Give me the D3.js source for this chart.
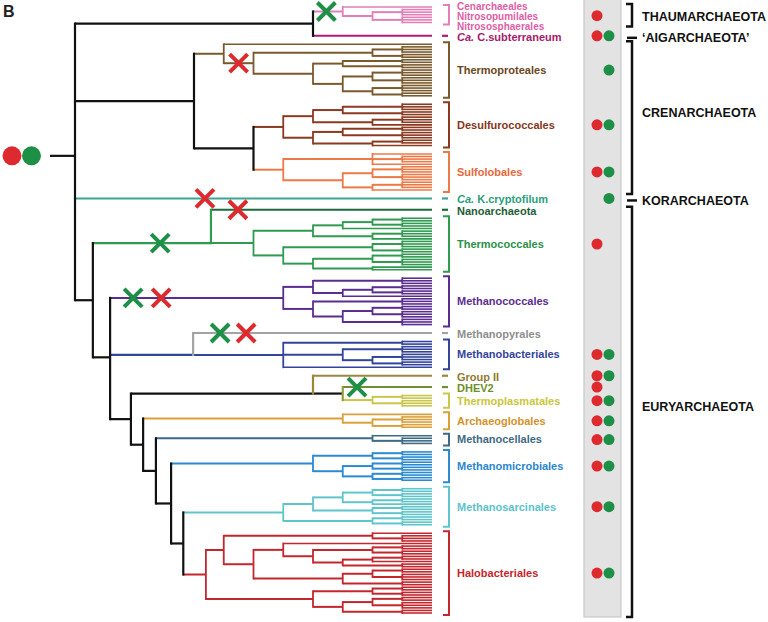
<!DOCTYPE html>
<html><head><meta charset="utf-8">
<script src="https://cdn.jsdelivr.net/npm/d3@7"></script>
<style>
body{margin:0;background:#fff}
svg{display:block}
text{font-family:"Liberation Sans",Arial,Helvetica,sans-serif}
</style>
</head><body>
<svg id="chart" width="768" height="622"></svg>
<script>
// ---------------- DATA ----------------
const cladeNames = ["Thaumarchaeota","Aigarchaeota","Thermoproteales","Desulfurococcales","Sulfolobales",
  "Korarchaeota","Nanoarchaeota","Thermococcales","Methanococcales","Methanopyrales","Methanobacteriales",
  "GroupII","DHEV2","Thermoplasmatales","Archaeoglobales","Methanocellales","Methanomicrobiales",
  "Methanosarcinales","Halobacteriales"];

const cladeLabels = [["Cenarchaeales","Nitrosopumilales","Nitrososphaerales"],["Ca. C.subterraneum"],
  ["Thermoproteales"],["Desulfurococcales"],["Sulfolobales"],["Ca. K.cryptofilum"],["Nanoarchaeota"],
  ["Thermococcales"],["Methanococcales"],["Methanopyrales"],["Methanobacteriales"],["Group II"],["DHEV2"],
  ["Thermoplasmatales"],["Archaeoglobales"],["Methanocellales"],["Methanomicrobiales"],
  ["Methanosarcinales"],["Halobacteriales"]];

const branchColors = ["#e37fb8","#b01c72","#7a5a2c","#8b3a20","#ec7946","#3ba593","#1e6a3f","#2f9a50",
  "#5b2d90","#a3a3a3","#33449b","#9b863c","#6e8f33","#c9c64a","#daa03a","#3d6a87","#2b8ad0","#5fc5cb","#c3272d"];
const labelColors = ["#de5ea6","#a8196a","#6b4720","#86361c","#e8683a","#2aa07d","#1c5e36","#2a9146",
  "#5b2d90","#8e8e8e","#33449b","#8f7a2f","#6e8f2a","#c9c63a","#d4922a","#3f6a86","#2a87cf","#5cc3cb","#c5262b"];

// clade subtrees: [depthLevel, child, child, ...]; 0 = leaf (drawn to the tip line)
const cladeTrees = [
  [9, 0, [10, [11,0,0,0], [11,0,0,0]]],
  0,
  [5, 0, [6, [10,[11,0,0,0],[11,0,0]], [8, [9,[11,0,0],[11,0,0]], [9,[10,[11,0,0,0],[11,0,0,0]],[10,[11,0,0,0],[11,0,0]]]]]],
  [7, [8, [9,[11,0,0,0],[11,0,0]], [10,[11,0,0,0],0]], [8, [9,[11,0,0],[11,0,0,0]], [10,[11,0,0],0]]],
  [7, [10, 0, [11,0,0,0], 0], [9, [10,[11,0,0,0],[11,0,0,0]], [10,[11,0,0,0],0]]],
  0,
  0,
  [6, [8, [9,[10,[11,0,0],[11,0,0]],0], [10,[11,0,0,0],0]], [7, [10,[11,0,0,0],[11,0,0]], [8,[10,[11,0,0],[11,0,0,0]],[10,0,0]]]],
  [7, [8, [11,0,0,0], [9,[10,[11,0,0],[11,0,0]],0]], [8, [11,0,0,0], [9,[10,[11,0,0],[11,0,0,0]],[11,0,0,0]]]],
  0,
  [7, [11,0,0], [9, [11,0,0,0], [10,[11,0,0,0],[11,0,0]]], 0],
  0,
  0,
  [10, [11,0,0], [11,0,0,0]],
  [9, 0, [10, [11,0,0,0], [11,0,0]]],
  [10, 0, [11,0,0,0]],
  [8, [10,[11,0,0],[11,0,0]], [9, [10,[11,0,0],[11,0,0]], [10,[11,0,0],[11,0,0]]]],
  [7, [8, [9,[10,[11,0,0],[11,0,0]],[10,[11,0,0],0]], [10,[11,0,0],[11,0,0]]], [10,[11,0,0],[11,0,0]]],
  [4.4, [5, [10,0,[11,0,0,0]], [6, [7,0,[8,[10,[11,0,0],[11,0,0]],[9,[10,[11,0,0],0],[11,0,0]]]], [9,[10,[11,0,0],[11,0,0,0]],[11,0,0]]]],
        [8, [10,[11,0,0],[11,0,0]], [9,[10,[11,0,0],[11,0,0,0]],[11,0,0]]]]
];

// backbone linking the clades: [depthLevel, child, ...]
const backbone = [0,
  [8, "Thaumarchaeota", "Aigarchaeota"],
  [4, "Thermoproteales", [6, "Desulfurococcales", "Sulfolobales"]],
  "Korarchaeota",
  [0.6,
    [4.57, "Nanoarchaeota", "Thermococcales"],
    [1.18, "Methanococcales", [3.97, "Methanopyrales", "Methanobacteriales"],
      [1.88, [8, "GroupII", [9, "DHEV2", "Thermoplasmatales"]],
        [2.29, "Archaeoglobales", [2.72, "Methanocellales", [3.23, "Methanomicrobiales",
          [3.64, "Methanosarcinales", "Halobacteriales"]]]]]]]];

// styles for backbone nodes: [clades below, vertical colour, stem colour, stem joins the last child]
const nodeStyles = [
  ["Nanoarchaeota|Thermococcales", "#2f9a50", "#2f9a50", true],
  ["Methanopyrales|Methanobacteriales", "#a3a3a3", "#33449b", true],
  ["GroupII|DHEV2|Thermoplasmatales", "#9b863c", "#111111", true],
  ["DHEV2|Thermoplasmatales", "#8fa03a", "#111111", false]
];

// loss marks: [node (clades below), path inside clade, colour, position along the branch]
const lossMarks = [
  ["Thaumarchaeota", [], "green", 0.45],
  ["Thermoproteales", [1], "red", 0.5],
  ["Korarchaeota", [], "red", 0.364],
  ["Nanoarchaeota", [], "red", 0.122],
  ["Nanoarchaeota|Thermococcales", [], "green", 0.57],
  ["Methanococcales", [], "green", 0.133],
  ["Methanococcales", [], "red", 0.295],
  ["Methanopyrales", [], "green", 0.113],
  ["Methanopyrales", [], "red", 0.222],
  ["DHEV2", [], "green", 0.16]
];

// presence of the two traits per clade
const hasRed   = [1,1,0,1,1,0,0,1,0,0,1,1,1,1,1,1,1,1,1];
const hasGreen = [0,1,1,1,1,1,0,0,0,0,1,1,0,1,1,1,1,1,1];

const phylumNames = ["THAUMARCHAEOTA","\u2018AIGARCHAEOTA\u2019","CRENARCHAEOTA","KORARCHAEOTA","EURYARCHAEOTA"];
const phylumFirst = ["Thaumarchaeota","Aigarchaeota","Thermoproteales","Korarchaeota","Nanoarchaeota"];
const phylumLast  = ["Thaumarchaeota","Aigarchaeota","Sulfolobales","Korarchaeota","Halobacteriales"];

// ---------------- DRAW ----------------
const RED = "#dd2a2e", GREEN = "#1d8f47", BLACK = "#111111";
const svg = d3.select("#chart");
const GAP = 2.3, LABEL_GAP = 1.9, SINGLE_GAP = 1.1;

function fromClade(spec, ci) {
  if (spec === 0) return {clade: ci};
  return {clade: ci, depth: spec[0], kids: spec.slice(1).map(s => fromClade(s, ci))};
}
function fromBackbone(spec) {
  if (typeof spec === "string") {
    const ci = cladeNames.indexOf(spec);
    const n = fromClade(cladeTrees[ci], ci);
    n.cladeRoot = true;
    return n;
  }
  return {clade: -1, depth: spec[0], kids: spec.slice(1).map(fromBackbone)};
}
const root = d3.hierarchy(fromBackbone(backbone), d => d.kids);

let li = 0, gaps = 0, prev = null;
const leaves = root.leaves();
leaves.forEach(l => {
  const c = l.data.clade;
  if (prev !== null && c !== prev) {
    gaps += GAP;
    if (cladeLabels[prev].length > 1) gaps += LABEL_GAP;
    if (cladeTrees[prev] === 0 && cladeTrees[c] === 0) gaps += SINGLE_GAP;
  }
  l.slot = li + gaps; li++; prev = c;
});
const maxSlot = d3.max(leaves, l => l.slot);
const X = d3.scaleLinear().domain([0, 12]).range([75, 432]);
const Y = d3.scaleLinear().domain([0, maxSlot]).range([7, 613]);

const styles = new Map(nodeStyles.map(d => [d[0], d]));
root.eachAfter(n => {
  n.key = [...new Set(n.leaves().map(l => cladeNames[l.data.clade]))].join("|");
  n.style = n.data.clade === -1 ? styles.get(n.key) : undefined;
  if (!n.children) { n.x = X(12); n.y = Y(n.slot); }
  else {
    n.x = X(n.data.depth);
    n.y = (n.style && n.style[3]) ? n.children[n.children.length - 1].y : d3.mean(n.children, c => c.y);
  }
});
function vertColor(n) {
  if (n.style) return n.style[1];
  return n.data.clade >= 0 ? branchColors[n.data.clade] : BLACK;
}
function stemColor(n) {
  if (n.style) return n.style[2];
  return n.data.clade >= 0 ? branchColors[n.data.clade] : BLACK;
}

// gray trait panel
svg.append("rect").attr("x", 584).attr("y", -3).attr("width", 37).attr("height", 620)
  .attr("fill", "#e3e3e3").attr("stroke", "#c8c8c8").attr("stroke-width", 1.2);

const gTree = svg.append("g");
// stems
gTree.selectAll("line.stem").data(root.descendants().filter(n => n.parent)).join("line")
  .attr("class", "stem")
  .attr("x1", n => n.parent.x).attr("x2", n => n.x)
  .attr("y1", n => n.y).attr("y2", n => n.y)
  .attr("stroke", stemColor)
  .attr("stroke-width", n => (!n.children && n.data.clade >= 0 && !n.data.cladeRoot) ? 1.6 : (n.data.clade === -1 ? 2.2 : 2));
// verticals
gTree.selectAll("line.vert").data(root.descendants().filter(n => n.children)).join("line")
  .attr("class", "vert")
  .attr("x1", n => n.x).attr("x2", n => n.x)
  .attr("y1", n => d3.min(n.children, c => c.y)).attr("y2", n => d3.max(n.children, c => c.y))
  .attr("stroke", vertColor)
  .attr("stroke-linecap", "square")
  .attr("stroke-width", n => n.data.clade === -1 ? 2.2 : 1.8);

// root stub and ancestral state dots
svg.append("line").attr("x1", 50).attr("x2", root.x).attr("y1", root.y).attr("y2", root.y)
  .attr("stroke", BLACK).attr("stroke-width", 2.2);
svg.append("circle").attr("cx", 12).attr("cy", root.y).attr("r", 9.5).attr("fill", RED);
svg.append("circle").attr("cx", 31.5).attr("cy", root.y).attr("r", 9.5).attr("fill", GREEN);

// loss marks
const all = root.descendants();
lossMarks.forEach(([key, path, col, f]) => {
  let n = all.find(d => d.key === key && (d.data.cladeRoot || d.data.clade === -1));
  path.forEach(p => { n = n.children[p]; });
  const cx = n.parent.x + f * (n.x - n.parent.x), cy = n.y, h = 9;
  const c = col === "red" ? RED : GREEN;
  svg.append("path").attr("d", `M${cx-h},${cy-h}L${cx+h},${cy+h}M${cx-h},${cy+h}L${cx+h},${cy-h}`)
    .attr("stroke", c).attr("stroke-width", 4).attr("fill", "none");
});

// clade extents
const cladeExt = cladeNames.map((nm, ci) => {
  const ls = leaves.filter(l => l.data.clade === ci);
  return {ci, top: d3.min(ls, l => l.y), bot: d3.max(ls, l => l.y), n: ls.length};
});

// clade brackets and labels
cladeExt.forEach(e => {
  const col = labelColors[e.ci];
  if (e.n > 1) {
    svg.append("path").attr("d", `M443,${e.top-2}H449V${e.bot+2}H443`)
      .attr("fill", "none").attr("stroke", branchColors[e.ci]).attr("stroke-width", 2);
  } else {
    svg.append("line").attr("x1", 442).attr("x2", 448).attr("y1", e.top).attr("y2", e.top)
      .attr("stroke", branchColors[e.ci]).attr("stroke-width", 2.2);
  }
  const mid = (e.top + e.bot) / 2;
  const lines = cladeLabels[e.ci];
  lines.forEach((t, i) => {
    const ty = lines.length > 1 ? mid + 2 + (i - 1) * 10 : mid + (e.n > 1 ? 0 : 1);
    const txt = svg.append("text").attr("x", 457).attr("y", ty).attr("dy", "0.35em")
      .attr("fill", col).attr("font-weight", "bold")
      .attr("font-size", lines.length > 1 ? 10 : 11);
    if (t.startsWith("Ca. ")) {
      txt.append("tspan").attr("font-style", "italic").text("Ca.");
      txt.append("tspan").text(" " + t.slice(4));
    } else txt.text(t);
  });
  // trait dots
  const dy = mid + (lines.length > 1 ? 1 : 0);
  if (hasRed[e.ci]) svg.append("circle").attr("cx", 597).attr("cy", dy).attr("r", 5.5).attr("fill", RED);
  if (hasGreen[e.ci]) svg.append("circle").attr("cx", 609).attr("cy", dy).attr("r", 5.5).attr("fill", GREEN);
});

// phylum brackets
phylumNames.forEach((nm, i) => {
  const a = cladeExt[cladeNames.indexOf(phylumFirst[i])], b = cladeExt[cladeNames.indexOf(phylumLast[i])];
  const top = a.top, bot = b.bot;
  let ly;
  if (top === bot) {
    svg.append("line").attr("x1", 627).attr("x2", 637).attr("y1", top + 2).attr("y2", top + 2)
      .attr("stroke", BLACK).attr("stroke-width", 2.5);
    ly = top + 2;
  } else {
    svg.append("path").attr("d", `M626,${top-3}H632V${bot+4}H626`)
      .attr("fill", "none").attr("stroke", BLACK).attr("stroke-width", 2.5);
    ly = (top + bot) / 2 + (bot - top > 60 ? -5 : 2);
  }
  svg.append("text").attr("x", 642).attr("y", ly).attr("dy", "0.35em")
    .attr("font-size", 12.5).attr("font-weight", "bold").attr("fill", BLACK).text(nm);
});

// panel letter
svg.append("text").attr("x", 3).attr("y", 17).attr("font-size", 16).attr("font-weight", "bold")
  .attr("fill", "#222").text("B");
</script>
</body></html>
